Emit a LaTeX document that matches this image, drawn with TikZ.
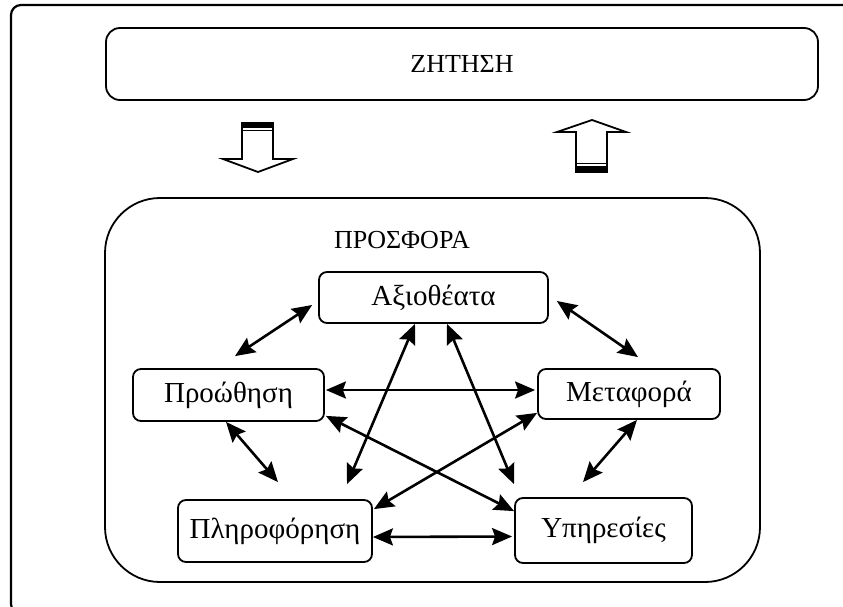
\documentclass[tikz,border=0pt]{standalone}
\usepackage{fontspec}
\setmainfont{Liberation Serif}
\usetikzlibrary{arrows.meta,calc}

\begin{document}
\begin{tikzpicture}[x=1pt,y=-1pt,
	box/.style={draw, line width=1.8pt, rounded corners=8pt, inner sep=0pt, font=\fontsize{29}{32}\selectfont},
	title/.style={font=\fontsize{26}{30}\selectfont},
	link/.style={line width=2.6pt, {Stealth[length=20pt,width=17pt,inset=3pt]}-{Stealth[length=20pt,width=17pt,inset=3pt]}},
	hollow/.style={draw, line width=1.8pt, line join=miter, fill=white}]

	\useasboundingbox (0,0) rectangle (843,607);
	\clip (0,0) rectangle (843,607);

	% frame
	\draw[line width=2.2pt, rounded corners=10pt] (11,5) rectangle (870,614);

	% demand
	\node[box, title, rounded corners=14pt, minimum width=712pt, minimum height=72pt] (zit) at (462,64) {ΖΗΤΗΣΗ};

	% block arrows
	\draw[hollow] (242,123) -- (242,159) -- (223,159) -- (258,172) -- (293,159) -- (273,159) -- (273,123) -- cycle;
	\fill (242,123) rectangle (273,128);
	\draw[line width=1pt] (242,131) -- (273,131);

	\draw[hollow] (576,172) -- (576,132) -- (557,132) -- (592,120) -- (626,132) -- (607,132) -- (607,172) -- cycle;
	\fill (576,166) rectangle (607,172);
	\draw[line width=1pt] (576,163) -- (607,163);

	% supply
	\node[box, rounded corners=55pt, minimum width=655pt, minimum height=384pt] (prosf) at (432.5,390) {};
	\node[title] (prosftitle) at (402,240) {ΠΡΟΣΦΟΡΑ};

	% components
	\node[box, minimum width=229pt, minimum height=51pt] (azi) at (433.5,297.5) {Αξιοθέατα};
	\node[box, minimum width=191pt, minimum height=52pt] (proo) at (228.5,395) {Προώθηση};
	\node[box, minimum width=182pt, minimum height=50pt] (meta) at (629,394) {Μεταφορά};
	\node[box, minimum width=194pt, minimum height=62pt] (plir) at (275,531) {Πληροφόρηση};
	\node[box, minimum width=177pt, minimum height=65pt] (ypir) at (603.5,530.5) {Υπηρεσίες};

	% outer ring
	\draw[link] ($(azi.west)+(-6,7.5)$) -- ($(proo.north)+(6.5,-12)$);
	\draw[link] ($(azi.east)+(8,3.5)$) -- ($(meta.north)+(9,-11)$);
	\draw[link] ($(proo.east)+(1,-5)$) -- ($(meta.west)+(-2,-4)$);
	\draw[link] ($(proo.south)+(-2.5,0)$) -- ($(plir.north)+(3,-17)$);
	\draw[link] ($(meta.south)+(8,0)$) -- ($(ypir.north)+(-20.5,-15)$);
	\draw[link] ($(plir.east)+(0,6)$) -- ($(ypir.west)+(-2,6)$);

	% crossing links
	\draw[link] ($(azi.south)+(-18.5,0)$) -- ($(plir.north)+(72,-15)$);
	\draw[link] ($(azi.south)+(13.5,0)$) -- ($(ypir.north)+(-89.5,-13)$);
	\draw[link] ($(proo.south east)+(1,-6)$) -- ($(ypir.north west)+(0,14)$);
	\draw[link] ($(meta.south west)+(0,-7)$) -- ($(plir.north east)+(1,10)$);

\end{tikzpicture}
\end{document}
